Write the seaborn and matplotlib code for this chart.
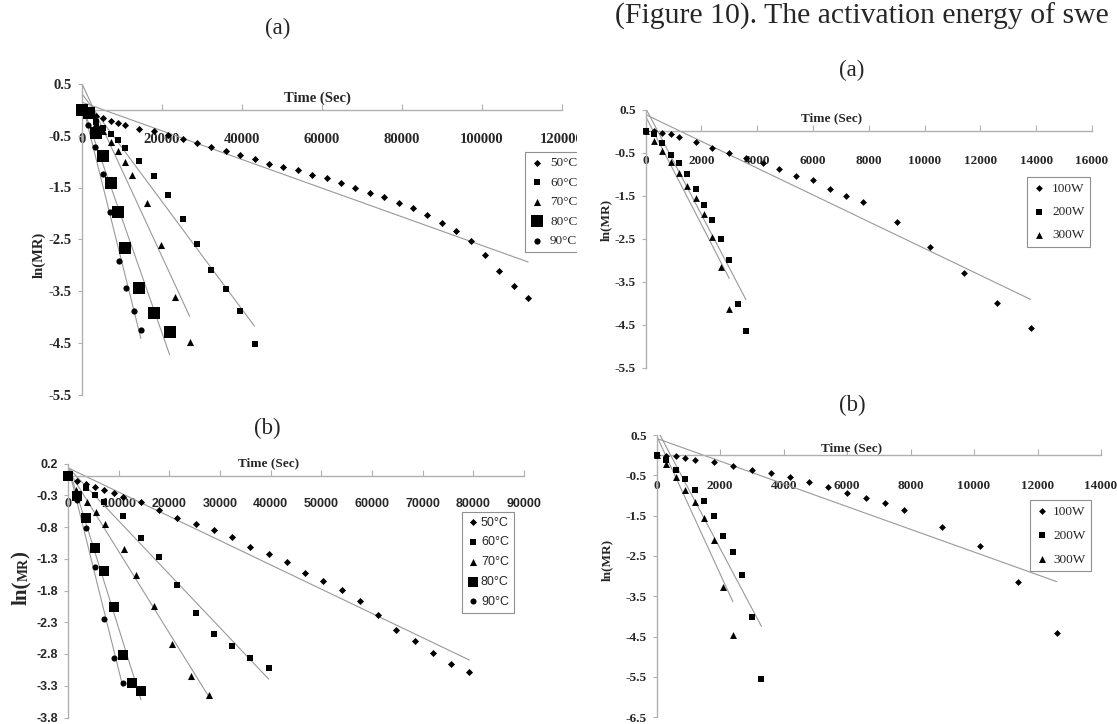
import numpy as np
import matplotlib
matplotlib.use("Agg")
import matplotlib.pyplot as plt
import seaborn as sns
from matplotlib.patches import Rectangle

# ---------------- data ----------------
# left column (a): drying at different temperatures
a_t50 = [0, 3600, 5400, 7200, 9000, 10800, 14400, 18000, 21600, 25200, 28800, 32400,
         36000, 39600, 43200, 46800, 50400, 54000, 57600, 61200, 64800, 68400, 72000,
         75600, 79200, 82800, 86400, 90000, 93600, 97200, 100800, 104400, 108000, 111600]
a_v50 = [0, -0.12, -0.16, -0.22, -0.26, -0.29, -0.36, -0.41, -0.49, -0.56, -0.64, -0.72,
         -0.80, -0.87, -0.95, -1.04, -1.11, -1.17, -1.25, -1.32, -1.42, -1.50, -1.60,
         -1.69, -1.79, -1.90, -2.04, -2.19, -2.35, -2.54, -2.80, -3.12, -3.40, -3.63]
a_t60 = [0, 3600, 5400, 7200, 9000, 10800, 14400, 18000, 21600, 25200, 28800, 32400, 36000, 39600, 43200]
a_v60 = [0, -0.23, -0.35, -0.46, -0.59, -0.73, -0.99, -1.28, -1.65, -2.11, -2.60, -3.09, -3.47, -3.88, -4.53]
a_t70 = [0, 3600, 5400, 7200, 9000, 10800, 12600, 16200, 19800, 23400, 27000]
a_v70 = [0, -0.26, -0.41, -0.63, -0.79, -1.01, -1.25, -1.79, -2.61, -3.62, -4.48]
a_t80 = [0, 1800, 3600, 5400, 7200, 9000, 10800, 14400, 18000, 22000]
a_v80 = [0, -0.07, -0.45, -0.90, -1.41, -1.98, -2.66, -3.44, -3.93, -4.29]
a_t90 = [0, 1500, 3300, 5300, 7100, 9200, 11100, 13000, 14800]
a_v90 = [0, -0.29, -0.71, -1.23, -1.97, -2.92, -3.45, -3.89, -4.26]

# left column (b)
b_t50 = [0, 1800, 3600, 5400, 7200, 9000, 10800, 14400, 18000, 21600, 25200, 28800, 32400,
         36000, 39600, 43200, 46800, 50400, 54000, 57600, 61200, 64800, 68400, 72000, 75600, 79200]
b_v50 = [0, -0.07, -0.13, -0.17, -0.22, -0.27, -0.32, -0.41, -0.53, -0.66, -0.75, -0.85, -0.96,
         -1.11, -1.23, -1.35, -1.52, -1.65, -1.79, -1.97, -2.18, -2.42, -2.60, -2.79, -2.95, -3.09]
b_t60 = [0, 3600, 5400, 7200, 10800, 14400, 18000, 21600, 25200, 28800, 32400, 36000, 39600]
b_v60 = [0, -0.18, -0.29, -0.41, -0.63, -0.97, -1.27, -1.71, -2.15, -2.49, -2.67, -2.86, -3.02]
b_t70 = [0, 1600, 3800, 5600, 7400, 11000, 13400, 17000, 20600, 24200, 27900]
b_v70 = [0, -0.22, -0.40, -0.57, -0.76, -1.14, -1.55, -2.04, -2.64, -3.15, -3.45]
b_t80 = [0, 1800, 3600, 5400, 7200, 9000, 10800, 12600, 14400]
b_v80 = [0, -0.31, -0.66, -1.13, -1.50, -2.06, -2.81, -3.25, -3.39]
b_t90 = [0, 1800, 3600, 5400, 7200, 9000, 10800]
b_v90 = [0, -0.37, -0.82, -1.43, -2.25, -2.87, -3.26]

# right column (a): microwave power
c_t100 = [0, 300, 600, 900, 1200, 1800, 2400, 3000, 3600, 4200, 4800, 5400, 6000, 6600,
          7200, 7800, 9000, 10200, 11400, 12600, 13800]
c_v100 = [0, -0.01, -0.05, -0.08, -0.13, -0.26, -0.40, -0.50, -0.63, -0.75, -0.88, -1.04,
          -1.15, -1.35, -1.51, -1.66, -2.11, -2.70, -3.30, -3.99, -4.59]
c_t200 = [0, 300, 600, 900, 1200, 1500, 1800, 2100, 2400, 2700, 3000, 3300, 3600]
c_v200 = [0, -0.08, -0.29, -0.55, -0.75, -1.00, -1.35, -1.72, -2.07, -2.52, -2.99, -4.03, -4.64]
c_t300 = [0, 300, 600, 900, 1200, 1500, 1800, 2100, 2400, 2700, 3000]
c_v300 = [0, -0.24, -0.46, -0.71, -0.98, -1.28, -1.56, -1.94, -2.46, -3.17, -4.15]

# right column (b)
d_t100 = [0, 300, 600, 900, 1200, 1800, 2400, 3000, 3600, 4200, 4800, 5400, 6000, 6600,
          7200, 7800, 9000, 10200, 11400, 12600]
d_v100 = [0, -0.02, -0.02, -0.07, -0.11, -0.17, -0.28, -0.36, -0.44, -0.55, -0.66, -0.78,
          -0.93, -1.07, -1.19, -1.36, -1.77, -2.26, -3.15, -4.40]
d_t200 = [0, 300, 600, 900, 1200, 1500, 1800, 2100, 2400, 2700, 3000, 3300]
d_v200 = [0, -0.12, -0.36, -0.60, -0.87, -1.14, -1.50, -2.01, -2.41, -2.97, -4.02, -5.56]
d_t300 = [0, 300, 600, 900, 1200, 1500, 1800, 2100, 2400]
d_v300 = [0, -0.21, -0.54, -0.87, -1.17, -1.55, -2.11, -3.27, -4.46]

temp_labels = ["50°C", "60°C", "70°C", "80°C", "90°C"]
power_labels = ["100W", "200W", "300W"]

a_xticks = [0, 20000, 40000, 60000, 80000, 100000, 120000]
a_yticks = [0.5, -0.5, -1.5, -2.5, -3.5, -4.5, -5.5]
b_xticks = [0, 10000, 20000, 30000, 40000, 50000, 60000, 70000, 80000, 90000]
b_yticks = [0.2, -0.3, -0.8, -1.3, -1.8, -2.3, -2.8, -3.3, -3.8]
c_xticks = [0, 2000, 4000, 6000, 8000, 10000, 12000, 14000, 16000]
c_yticks = [0.5, -0.5, -1.5, -2.5, -3.5, -4.5, -5.5]
d_xticks = [0, 2000, 4000, 6000, 8000, 10000, 12000, 14000]
d_yticks = [0.5, -0.5, -1.5, -2.5, -3.5, -4.5, -5.5, -6.5]

W, H = 1117, 724
AXIS = "#b0b0b0"
LINE = "#999999"
SERIF = "Liberation Serif"
SANS = "Liberation Sans"

sns.set_style("ticks")
plt.rcParams["axes.unicode_minus"] = False
plt.rcParams["font.family"] = ["DejaVu Sans"]

fig = plt.figure(figsize=(W / 100, H / 100), dpi=100)


def px_axes(left, top, right, bottom):
    """axes placed by pixel edges (y measured from the top)"""
    return fig.add_axes([left / W, 1 - bottom / H, (right - left) / W, (bottom - top) / H])


def draw_panel(ax, series, xticks, yticks, tick_font, tick_size, xpad):
    for t, v, lab, mk, s in series:
        sns.regplot(x=np.array(t, float), y=np.array(v, float), ax=ax, scatter=False,
                    ci=None, truncate=True, color=LINE, line_kws=dict(lw=0.8, zorder=1))
    for t, v, lab, mk, s in series:
        sns.scatterplot(x=t, y=v, ax=ax, marker=mk, s=s, color="black", linewidth=0,
                        label=lab, clip_on=False, zorder=3)
    ax.set_xlim(0, xticks[-1])
    ax.set_ylim(yticks[-1], yticks[0])
    ax.spines["bottom"].set_position(("data", 0))
    ax.spines[["top", "right"]].set_visible(False)
    for sp in ["left", "bottom"]:
        ax.spines[sp].set_color(AXIS)
        ax.spines[sp].set_linewidth(1.0)
    ax.set_xticks(xticks)
    ax.set_xticklabels([str(x) for x in xticks], family=tick_font, weight="bold", size=tick_size)
    ax.set_yticks(yticks)
    ax.set_yticklabels([f"{y:.1f}" for y in yticks], family=tick_font, weight="bold", size=tick_size)
    ax.tick_params(axis="x", direction="in", length=4, color=AXIS, pad=xpad)
    ax.tick_params(axis="y", direction="out", length=3, color=AXIS, pad=4)
    ax.set_xlabel("")
    ax.set_ylabel("")
    ax.patch.set_alpha(0)


def add_legend(ax, left, top, font, size, spacing, textpad):
    handles, labels = ax.get_legend_handles_labels()
    leg = ax.legend(handles, labels, loc="upper left", bbox_to_anchor=(left / W, 1 - top / H),
                    bbox_transform=fig.transFigure, borderaxespad=0, frameon=True, fancybox=False,
                    edgecolor="#909090", framealpha=1, borderpad=0.4, handlelength=1.0,
                    handletextpad=textpad, labelspacing=spacing, scatterpoints=1,
                    prop=dict(family=font, size=size))
    leg.get_frame().set_linewidth(0.8)
    return leg


# ---- left (a) ----
ax1 = px_axes(81.7, 84, 561.7, 394.5)
series1 = [(a_t50, a_v50, temp_labels[0], "D", 13),
           (a_t60, a_v60, temp_labels[1], "s", 18),
           (a_t70, a_v70, temp_labels[2], "^", 26),
           (a_t80, a_v80, temp_labels[3], "s", 80),
           (a_t90, a_v90, temp_labels[4], "o", 20)]
draw_panel(ax1, series1, a_xticks, a_yticks, SERIF, 10.5, 17)
add_legend(ax1, 525, 151.7, SERIF, 9.5, 0.55, 0.5)

# ---- left (b) ----
ax2 = px_axes(68, 463.5, 524, 717.5)
series2 = [(b_t50, b_v50, temp_labels[0], "D", 13),
           (b_t60, b_v60, temp_labels[1], "s", 18),
           (b_t70, b_v70, temp_labels[2], "^", 26),
           (b_t80, b_v80, temp_labels[3], "s", 58),
           (b_t90, b_v90, temp_labels[4], "o", 19)]
draw_panel(ax2, series2, b_xticks, b_yticks, SANS, 9, 16)
add_legend(ax2, 461.6, 511.7, SANS, 9, 0.62, 0.15)

# ---- right (a) ----
ax3 = px_axes(645.5, 109.5, 1092, 367.5)
series3 = [(c_t100, c_v100, power_labels[0], "D", 12),
           (c_t200, c_v200, power_labels[1], "s", 20),
           (c_t300, c_v300, power_labels[2], "^", 24)]
draw_panel(ax3, series3, c_xticks, c_yticks, SERIF, 9.5, 17)
add_legend(ax3, 1027, 177, SERIF, 9.5, 0.85, 0.5)

# ---- right (b) ----
ax4 = px_axes(656.7, 435, 1101, 717.3)
series4 = [(d_t100, d_v100, power_labels[0], "D", 12),
           (d_t200, d_v200, power_labels[1], "s", 21),
           (d_t300, d_v300, power_labels[2], "^", 25)]
draw_panel(ax4, series4, d_xticks, d_yticks, SERIF, 9.5, 18)
add_legend(ax4, 1030, 500, SERIF, 9.5, 0.9, 0.35)

# ---- axis titles ----
def ftext(x, y, s, **kw):
    return fig.text(x / W, 1 - y / H, s, ha="center", va="center", **kw)


ftext(317, 98, "Time (Sec)", family=SERIF, weight="bold", size=10.5)
ftext(269, 463, "Time (Sec)", family=SERIF, weight="bold", size=9.5)
ftext(832, 118, "Time (Sec)", family=SERIF, weight="bold", size=9.5)
ftext(852, 448, "Time (Sec)", family=SERIF, weight="bold", size=9.5)

ftext(39, 255, "ln(MR)", family=SERIF, weight="bold", size=10.5, rotation=90)
ftext(606, 220, "ln(MR)", family=SERIF, weight="bold", size=9.5, rotation=90)
ftext(607, 560, "ln(MR)", family=SERIF, weight="bold", size=9.5, rotation=90)

# big ln(MR) with small-cap MR on the lower left panel
t1 = fig.text(21 / W, 1 - 605 / H, "ln(", rotation=90, ha="center", va="bottom",
              family=SERIF, weight="bold", size=15)
t2 = ax2.annotate("MR", xy=(1, 1), xycoords=t1, rotation=90, ha="right", va="bottom",
                  family=SERIF, weight="bold", size=10, annotation_clip=False)
t3 = ax2.annotate(")", xy=(1, 1), xycoords=t2, rotation=90, ha="right", va="bottom",
                  family=SERIF, weight="bold", size=15, annotation_clip=False)

# panel letters and the running text of the page
ftext(278, 28, "(a)", family=SERIF, size=16.5)
ftext(267, 428, "(b)", family=SERIF, size=16.5)
ftext(852, 70, "(a)", family=SERIF, size=16.5)
ftext(852, 405, "(b)", family=SERIF, size=16.5)
fig.text(615 / W, 1 - 16 / H, "(Figure 10). The activation energy of swe", ha="left",
         va="center", family=SERIF, size=21.4)

# the left chart is cut off at its right edge in the source page
fig.add_artist(Rectangle((577 / W, 1 - 290 / H), 18 / W, 170 / H, transform=fig.transFigure,
                         facecolor="white", edgecolor="none", zorder=100))

fig.savefig("out.png", dpi=100)
